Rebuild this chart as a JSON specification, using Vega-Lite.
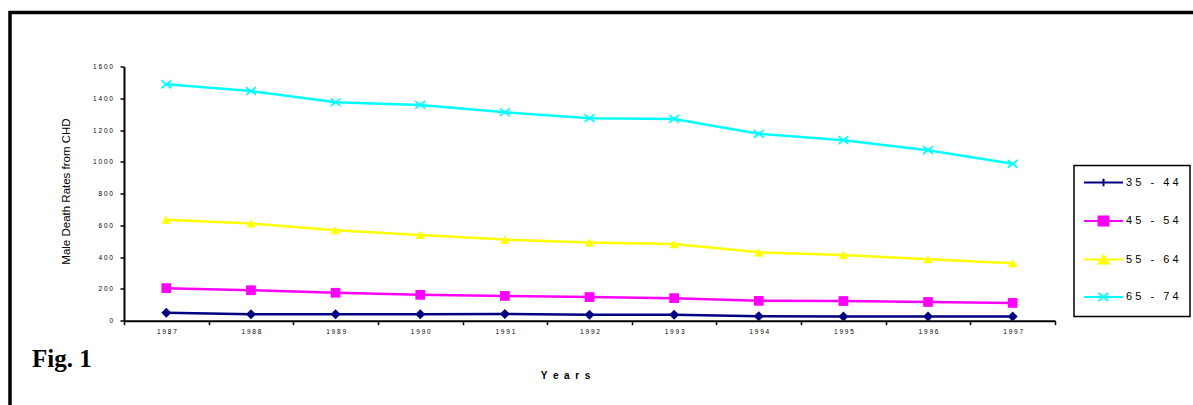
{
  "$schema": "https://vega.github.io/schema/vega-lite/v6.json",
  "width": 1203,
  "height": 412.5,
  "autosize": "none",
  "padding": {"left": 10, "top": 12.5, "right": -20, "bottom": -20},
  "background": "white",
  "config": {
    "view": {"stroke": "black", "strokeWidth": 3.5},
    "font": "Liberation Sans"
  },
  "title": {
    "text": "Fig. 1",
    "orient": "top",
    "anchor": "start",
    "frame": "group",
    "font": "Liberation Serif",
    "fontSize": 25,
    "fontWeight": "bold",
    "color": "black",
    "baseline": "alphabetic",
    "offset": 0,
    "dx": 22,
    "dy": 379
  },
  "data": {
    "values": [
      {"year": "1987", "series": "35 - 44", "rate": 50},
      {"year": "1988", "series": "35 - 44", "rate": 40},
      {"year": "1989", "series": "35 - 44", "rate": 40},
      {"year": "1990", "series": "35 - 44", "rate": 40},
      {"year": "1991", "series": "35 - 44", "rate": 42},
      {"year": "1992", "series": "35 - 44", "rate": 38},
      {"year": "1993", "series": "35 - 44", "rate": 37},
      {"year": "1994", "series": "35 - 44", "rate": 28},
      {"year": "1995", "series": "35 - 44", "rate": 27},
      {"year": "1996", "series": "35 - 44", "rate": 27},
      {"year": "1997", "series": "35 - 44", "rate": 27},
      {"year": "1987", "series": "45 - 54", "rate": 205},
      {"year": "1988", "series": "45 - 54", "rate": 192},
      {"year": "1989", "series": "45 - 54", "rate": 176},
      {"year": "1990", "series": "45 - 54", "rate": 163},
      {"year": "1991", "series": "45 - 54", "rate": 156},
      {"year": "1992", "series": "45 - 54", "rate": 149},
      {"year": "1993", "series": "45 - 54", "rate": 142},
      {"year": "1994", "series": "45 - 54", "rate": 125},
      {"year": "1995", "series": "45 - 54", "rate": 124},
      {"year": "1996", "series": "45 - 54", "rate": 118},
      {"year": "1997", "series": "45 - 54", "rate": 112},
      {"year": "1987", "series": "55 - 64", "rate": 636},
      {"year": "1988", "series": "55 - 64", "rate": 613},
      {"year": "1989", "series": "55 - 64", "rate": 570},
      {"year": "1990", "series": "55 - 64", "rate": 540},
      {"year": "1991", "series": "55 - 64", "rate": 511},
      {"year": "1992", "series": "55 - 64", "rate": 493},
      {"year": "1993", "series": "55 - 64", "rate": 483},
      {"year": "1994", "series": "55 - 64", "rate": 431},
      {"year": "1995", "series": "55 - 64", "rate": 414},
      {"year": "1996", "series": "55 - 64", "rate": 387},
      {"year": "1997", "series": "55 - 64", "rate": 362},
      {"year": "1987", "series": "65 - 74", "rate": 1489},
      {"year": "1988", "series": "65 - 74", "rate": 1447},
      {"year": "1989", "series": "65 - 74", "rate": 1376},
      {"year": "1990", "series": "65 - 74", "rate": 1359},
      {"year": "1991", "series": "65 - 74", "rate": 1313},
      {"year": "1992", "series": "65 - 74", "rate": 1276},
      {"year": "1993", "series": "65 - 74", "rate": 1271},
      {"year": "1994", "series": "65 - 74", "rate": 1177},
      {"year": "1995", "series": "65 - 74", "rate": 1137},
      {"year": "1996", "series": "65 - 74", "rate": 1074},
      {"year": "1997", "series": "65 - 74", "rate": 988}
    ]
  },
  "encoding": {
    "x": {
      "field": "year",
      "type": "ordinal",
      "scale": {"type": "band", "range": [114, 1045], "paddingInner": 0, "paddingOuter": 0},
      "axis": {
        "title": "Y\u00a0 e\u00a0 a\u00a0 r\u00a0 s",
        "titleFont": "Liberation Sans",
        "titleFontSize": 10,
        "titleFontWeight": "bold",
        "titleColor": "black",
        "titleX": 555,
        "titleY": 58,
        "titleAlign": "center",
        "titleBaseline": "alphabetic",
        "labelAngle": 0,
        "labelFont": "Liberation Sans",
        "labelFontSize": 6.5,
        "labelColor": "black",
        "labelExpr": "join(split(datum.label, ''), '\u00a0')",
        "labelPadding": 4,
        "tickBand": "extent",
        "ticks": true,
        "tickSize": 4,
        "tickColor": "black",
        "tickWidth": 1.5,
        "domainColor": "black",
        "domainWidth": 2,
        "grid": false,
        "offset": -104.3
      }
    },
    "y": {
      "field": "rate",
      "type": "quantitative",
      "scale": {"domain": [0, 1600], "range": [308.2, 54.2], "nice": false, "zero": true},
      "axis": {
        "title": "Male Death Rates from CHD",
        "titleFont": "Liberation Sans",
        "titleFontSize": 11.5,
        "titleFontWeight": "normal",
        "titleColor": "black",
        "titleAngle": 270,
        "titleX": -57.3,
        "titleY": 178.5,
        "titleAlign": "center",
        "titleBaseline": "middle",
        "values": [0, 200, 400, 600, 800, 1000, 1200, 1400, 1600],
        "format": "d",
        "labelExpr": "join(split(datum.label, ''), '\u00a0')",
        "labelFont": "Liberation Sans",
        "labelFontSize": 6.5,
        "labelColor": "black",
        "labelPadding": 7.5,
        "tickSize": 4,
        "tickColor": "black",
        "tickWidth": 1.5,
        "domainColor": "black",
        "domainWidth": 2,
        "grid": false,
        "offset": -114
      }
    },
    "color": {
      "field": "series",
      "type": "nominal",
      "scale": {
        "domain": ["35 - 44", "45 - 54", "55 - 64", "65 - 74"],
        "range": ["#000080", "#FF00FF", "#FFFF00", "#00FFFF"]
      },
      "legend": {
        "title": null,
        "orient": "none",
        "legendX": 1064,
        "legendY": 153,
        "direction": "vertical",
        "strokeColor": "black",
        "padding": 11,
        "rowPadding": 21.5,
        "labelFont": "Liberation Sans",
        "labelFontSize": 11,
        "labelColor": "black",
        "labelOffset": 29,
        "symbolSize": 100,
        "symbolStrokeWidth": 2,
        "labelExpr": "join(split(datum.label, ''), '\u00a0')",
        "encode": {
          "legend": {"update": {"strokeWidth": {"value": 1.5}}},
          "symbols": {
            "update": {
              "shape": {"signal": "datum.value === '35 - 44' ? 'M-1.4,0H6.4M2.5,-0.75V0.75' : datum.value === '45 - 54' ? 'M-1.4,0H6.4M1.5,-0.9H3.5V0.9H1.5Z' : datum.value === '55 - 64' ? 'M-1.4,0H6.4M2.5,-0.8L3.5,0.8H1.5Z' : 'M-1.4,0H6.4M1.5,-0.8L3.5,0.8M1.5,0.8L3.5,-0.8'"},
              "fill": {"signal": "scale('color', datum.value)"},
              "stroke": {"signal": "scale('color', datum.value)"},
              "strokeWidth": {"value": 2},
              "opacity": {"value": 1}
            }
          }
        }
      }
    }
  },
  "layer": [
    {"mark": {"type": "line", "strokeWidth": 2.5}},
    {
      "transform": [{"filter": "datum.series === '35 - 44'"}],
      "mark": {"type": "point", "shape": "diamond", "filled": true, "opacity": 1, "size": 100}
    },
    {
      "transform": [{"filter": "datum.series === '45 - 54'"}],
      "mark": {"type": "point", "shape": "square", "filled": true, "opacity": 1, "size": 95}
    },
    {
      "transform": [{"filter": "datum.series === '55 - 64'"}],
      "mark": {"type": "point", "shape": "triangle-up", "filled": true, "opacity": 1, "size": 90}
    },
    {
      "transform": [{"filter": "datum.series === '65 - 74'"}],
      "mark": {"type": "point", "shape": "M-1,-0.97L0,-0.22L1,-0.97L1,-0.53L0.293,0L1,0.53L1,0.97L0,0.22L-1,0.97L-1,0.53L-0.293,0L-1,-0.53Z", "filled": true, "opacity": 1, "size": 100}
    }
  ]
}
